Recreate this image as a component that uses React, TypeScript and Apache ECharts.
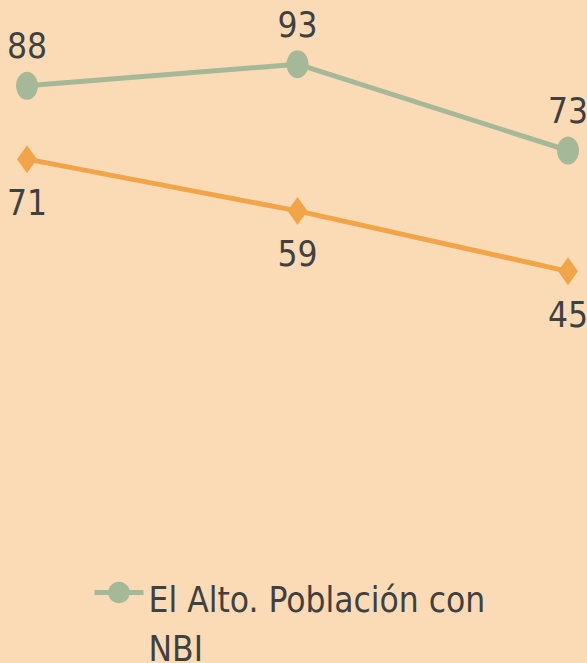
import React, { useEffect, useRef } from "react";
import * as echarts from "echarts";

const categories = ["1992", "2001", "2012"];
const elAltoValues = [88, 93, 73];
const otherValues = [71, 59, 45];
const seriesNames = ["El Alto. Población con NBI", "Bolivia. Población con NBI"];

const FONT = "DejaVu Sans Condensed";
const TEXT = "#404040";
const GREEN = "#A5B897";
const ORANGE = "#F2A548";
const BG = "#FBDBB6";

export default function App() {
  const ref = useRef<HTMLDivElement>(null);
  useEffect(() => {
    if (!ref.current) return;
    const chart = echarts.init(ref.current, undefined, { renderer: "svg" });
    chart.setOption({
      animation: false,
      backgroundColor: BG,
      grid: { left: 27, right: 19, top: 34, bottom: 663 - 465.5 },
      xAxis: {
        type: "category",
        data: categories,
        boundaryGap: false,
        show: false,
      },
      yAxis: { type: "value", min: 0, max: 100, show: false },
      legend: {
        data: [seriesNames[0]],
        left: 92,
        top: 512,
        padding: 0,
        itemWidth: 49,
        itemHeight: 27,
        itemGap: 10,
        lineStyle: { width: 5 },
        formatter: (name: string) => {
          const i = name.lastIndexOf(" ");
          return `{s| }\n{a|${name.slice(0, i)}}\n{a|${name.slice(i + 1)}}`;
        },
        textStyle: {
          fontFamily: FONT,
          fontSize: 35,
          color: TEXT,
          rich: {
            s: { fontFamily: FONT, fontSize: 10, lineHeight: 63, height: 63 },
            a: { fontFamily: FONT, fontSize: 35, color: TEXT, lineHeight: 49 },
          },
        },
      },
      series: [
        {
          name: seriesNames[0],
          type: "line",
          data: elAltoValues,
          symbol: "circle",
          symbolSize: [22, 28],
          lineStyle: { color: GREEN, width: 5 },
          itemStyle: { color: GREEN },
          label: {
            show: true,
            position: "top",
            distance: 8,
            fontFamily: FONT,
            fontSize: 35,
            color: TEXT,
          },
        },
        {
          name: seriesNames[1],
          type: "line",
          data: otherValues,
          symbol: "diamond",
          symbolSize: [20, 28],
          lineStyle: { color: ORANGE, width: 5 },
          itemStyle: { color: ORANGE },
          label: {
            show: true,
            position: "bottom",
            distance: 12,
            fontFamily: FONT,
            fontSize: 35,
            color: TEXT,
          },
        },
      ],
    });
    return () => chart.dispose();
  }, []);
  return (
    <div
      ref={ref}
      style={{ position: "fixed", left: 0, top: 0, width: 587, height: 663 }}
    />
  );
}
